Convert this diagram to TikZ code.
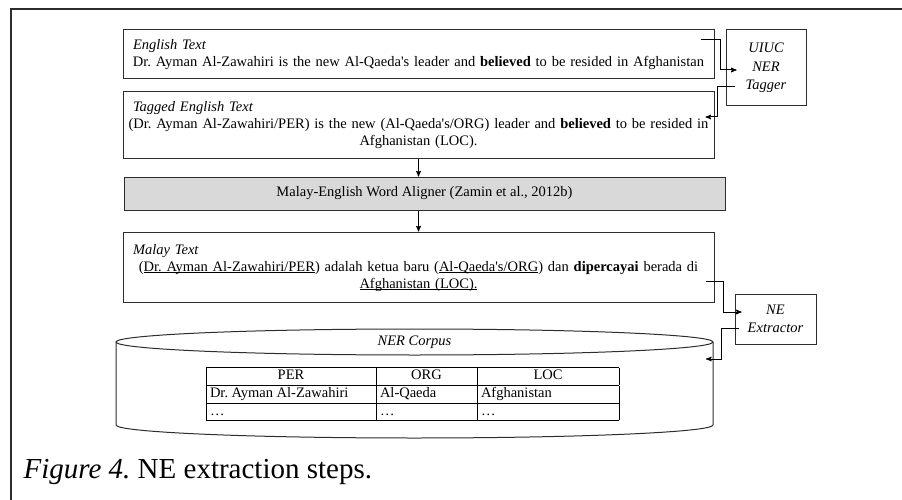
\documentclass[tikz,border=0pt]{standalone}
\usepackage{fontspec}
\setmainfont{Liberation Serif}
\usepackage{tikz}
\usetikzlibrary{arrows}

\definecolor{alignergray}{RGB}{217,217,217}
\definecolor{linegray}{RGB}{45,45,45}
\newcommand{\boxhead}[1]{\makebox[\hsize][l]{\hspace*{7pt}\itshape #1}}
\newcommand{\q}{\textquotesingle}
\newcommand{\undl}[1]{\underline{\smash{#1}}}

\begin{document}
\frenchspacing
\begin{tikzpicture}[x=1pt, y=-1pt, >=stealth', semithick,
    every node/.style={font=\fontsize{14.5}{17}\selectfont},
    textbox/.style={draw=linegray, line width=1pt, text width=585pt, inner xsep=3pt, inner ysep=0pt, align=center},
    toolbox/.style={draw=linegray, line width=1pt, inner sep=0pt, align=center, font=\fontsize{14.5}{18.5}\selectfont\itshape},
    link/.style={->, line width=1pt}]
    \useasboundingbox (0,0) rectangle (902,500);
    \draw[linegray, line width=1.5pt] (902,9) -- (11,9) -- (11,500);

    % text boxes
    \node[textbox, minimum height=49pt] (engl) at (418.5,54.5) {\boxhead{English Text}\\
        Dr. Ayman Al-Zawahiri is the new Al-Qaeda\q s leader and \textbf{believed} to be resided in Afghanistan};
    \node[textbox, minimum height=66pt] (tagged) at (418.5,125) {\boxhead{Tagged English Text}\\
        (Dr. Ayman Al-Zawahiri/PER) is the new (Al-Qaeda\q s/ORG) leader and \textbf{believed} to be resided in\\
        Afghanistan (LOC).};
    \node[draw=linegray, line width=1pt, fill=alignergray, minimum width=601pt, minimum height=33pt] (aligner) at (424.5,193.5) {Malay-English Word Aligner (Zamin et al., 2012b)};
    \node[textbox, minimum height=70pt] (malay) at (418.5,267) {\boxhead{Malay Text}\\
        (\undl{Dr. Ayman Al-Zawahiri/PER}) adalah ketua baru (\undl{Al-Qaeda\q s/ORG}) dan \textbf{dipercayai} berada di\\
        \undl{Afghanistan (LOC).}};

    % tools
    \node[toolbox, minimum width=80pt, minimum height=76pt] (tagger) at (766,68) {UIUC\\NER\\Tagger};
    \node[toolbox, minimum width=81pt, minimum height=50pt] (nex) at (775.5,319) {NE\\Extractor};

    % corpus
    \draw[linegray, line width=1pt] (414.5,342) ellipse[x radius=298.5, y radius=13];
    \draw[linegray, line width=1pt] (116,342) -- (116,425) arc[start angle=180, end angle=0, x radius=298.5, y radius=13] -- (713,342);
    \node (corpus) at (414.5,342) {\itshape NER Corpus};
    \coordinate (corpusin) at (706,359);
    \node[inner sep=0pt] (nertable) at (412.5,394) {\setlength{\tabcolsep}{4pt}\setlength{\arrayrulewidth}{0.8pt}%
        \begin{tabular}{|p{162pt}|p{93pt}|p{134pt}|}
        \hline
        \multicolumn{1}{|c|}{PER} & \multicolumn{1}{c|}{ORG} & \multicolumn{1}{c|}{LOC}\\ \hline
        Dr. Ayman Al-Zawahiri & Al-Qaeda & Afghanistan\\ \hline
        \ldots & \ldots & \ldots\\ \hline
        \end{tabular}};

    % connectors
    \draw[link] ([xshift=-14pt,yshift=-10pt]engl.north east) -- ++(20,0) |- ([xshift=11pt,yshift=-2pt]tagger.west);
    \draw[link] ([xshift=9pt,yshift=-19pt]tagger.west) -- ++(-17,0) |- ([xshift=-9pt,yshift=8pt]tagged.east);
    \draw[link] (tagged.south) -- (tagged.south |- aligner.north);
    \draw[link] (malay.north |- aligner.south) -- (malay.north);
    \draw[link] ([xshift=-9pt,yshift=-14pt]malay.east) -- ++(18,0) |- ([xshift=7pt,yshift=7pt]nex.west);
    \draw[link] ([xshift=4pt,yshift=-9pt]nex.west) -- ++(-17,0) |- (corpusin);

    \node[anchor=base west, font=\fontsize{29}{34}\selectfont] (caption) at (20,478) {\textit{Figure 4.} NE extraction steps.};
\end{tikzpicture}
\end{document}
